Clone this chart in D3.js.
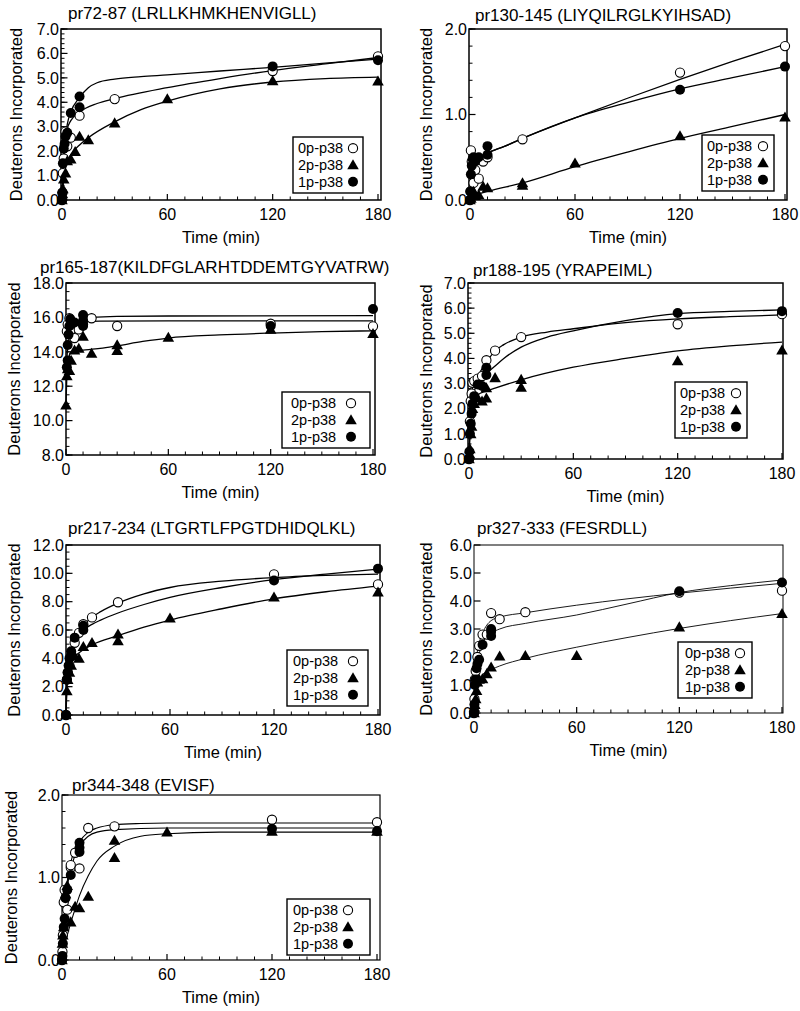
<!DOCTYPE html>
<html><head><meta charset="utf-8">
<script src="https://cdn.jsdelivr.net/npm/d3@7"></script>
<style>
body{margin:0;background:#fff}
svg{display:block}
text{font-family:"Liberation Sans",Arial,Helvetica,sans-serif;fill:#000}
</style>
</head><body>
<svg id="chart" width="800" height="1011"></svg>
<script>
// ---------- DATA ([time (min), deuterons]) ----------
const seriesNames = ["0p-p38", "2p-p38", "1p-p38"];
const xTicks = [0, 60, 120, 180];

// pr72-87
const p1_0p = [[0,0],[0.25,0.3],[0.5,1.1],[1,1.7],[1.5,2.2],[2,2.8],[3,2.2],[5,2.55],[10,3.45],[30,4.13],[120,5.28],[180,5.88]];
const p1_2p = [[0,0],[0.25,0.25],[0.5,0.45],[1,0.85],[2,1.1],[3,1.6],[5,1.67],[7.5,1.98],[10,2.6],[15,2.46],[30,3.15],[60,4.14],[120,4.88],[180,4.86]];
const p1_1p = [[0,0],[0.25,0.3],[0.5,1.5],[1,2.1],[1.5,2.3],[2,2.6],[3,2.75],[5,3.56],[10,3.8],[10,4.24],[120,5.47],[180,5.72]];
const p1_fit0p = [[0,0],[0.5,0.9],[1,1.6],[2,2.4],[3,2.9],[5,3.25],[10,3.6],[20,3.95],[30,4.15],[60,4.6],[90,4.97],[120,5.3],[150,5.57],[180,5.83]];
const p1_fit2p = [[0,0],[0.5,0.5],[1,0.9],[2,1.3],[3,1.55],[5,1.85],[10,2.25],[15,2.55],[30,3.2],[45,3.7],[60,4.05],[90,4.55],[120,4.83],[150,4.97],[180,5.03]];
const p1_fit1p = [[0,0],[0.5,1.2],[1,1.9],[2,2.6],[3,3.1],[5,3.6],[10,4.2],[15,4.6],[20,4.8],[30,4.95],[45,5.05],[60,5.12],[90,5.28],[120,5.43],[150,5.6],[180,5.77]];

// pr130-145
const p2_0p = [[0,0],[0.25,0.1],[0.5,0.58],[1,0.45],[1.5,0.3],[2,0.2],[3,0.35],[5,0.25],[7.5,0.45],[10,0.5],[30,0.71],[120,1.49],[180,1.8]];
const p2_2p = [[0,0],[0.5,0.02],[1,0.05],[2,0.1],[3,0.05],[5,0.06],[7.5,0.16],[10,0.14],[30,0.2],[30,0.17],[60,0.43],[120,0.75],[180,0.97]];
const p2_1p = [[0,0],[0.25,0.1],[0.5,0.3],[1,0.4],[1.5,0.48],[2,0.5],[3,0.45],[5,0.5],[10,0.53],[10,0.63],[120,1.29],[180,1.56]];
const p2_fit0p = [[0,0],[0.5,0.25],[1,0.38],[2,0.45],[5,0.5],[10,0.55],[20,0.63],[30,0.72],[60,0.96],[90,1.19],[120,1.41],[150,1.62],[180,1.82]];
const p2_fit2p = [[0,0],[2,0.04],[5,0.07],[10,0.1],[30,0.2],[60,0.39],[90,0.56],[120,0.72],[150,0.86],[180,1.0]];
const p2_fit1p = [[0,0],[0.5,0.25],[1,0.38],[2,0.45],[5,0.5],[10,0.55],[20,0.63],[30,0.72],[60,0.96],[90,1.14],[120,1.3],[150,1.43],[180,1.56]];

// pr165-187
const p3_0p = [[0.5,15.2],[1,15.6],[2,15.95],[3,15.3],[5,14.8],[7.5,15.3],[10,15.6],[15,15.95],[30,15.5],[120,15.63],[180,15.48]];
const p3_2p = [[0,10.9],[0.5,12.6],[1,13.0],[2,12.9],[3,13.5],[5,14.1],[7.5,14.2],[10,14.9],[15,13.9],[30,14.4],[30,14.06],[60,14.83],[120,15.3],[180,15.05]];
const p3_1p = [[0.5,13.1],[1,13.5],[1,14.4],[1.5,15.0],[2,15.5],[2.5,15.9],[3,15.6],[5,15.7],[10,15.5],[10,15.8],[10,16.14],[120,15.5],[180,16.49]];
const p3_fit0p = [[0,15.0],[1,15.45],[2,15.6],[5,15.7],[10,15.75],[20,15.78],[60,15.8],[180,15.8]];
const p3_fit2p = [[0,11],[0.5,12.6],[1,13.3],[2,13.8],[3,14.0],[5,14.05],[10,14.1],[20,14.2],[30,14.35],[45,14.6],[60,14.8],[90,14.98],[120,15.09],[150,15.17],[180,15.22]];
const p3_fit1p = [[0,13.0],[1,14.2],[2,14.9],[3,15.3],[5,15.6],[10,15.9],[15,16.0],[30,16.06],[60,16.08],[180,16.1]];

// pr188-195
const p4_0p = [[0,0],[0.5,1.5],[1,2.3],[1.5,2.6],[2,3.03],[3,3.1],[5,3.2],[7.5,3.3],[10,3.93],[15,4.31],[30,4.85],[120,5.36],[180,5.76]];
const p4_2p = [[0,0],[0.25,0.2],[0.5,0.4],[1,1.0],[1.5,1.3],[2,2.0],[3,2.2],[5,2.42],[7.5,2.3],[10,2.42],[10,2.83],[15,3.23],[30,3.16],[30,2.85],[120,3.9],[180,4.33]];
const p4_1p = [[0,0],[0.25,0.3],[0.5,1.0],[1,1.4],[1.5,1.8],[2,2.2],[3,2.5],[5,2.96],[7.5,2.9],[10,3.34],[10,3.63],[120,5.81],[180,5.88]];
const p4_fit0p = [[0,0],[0.5,1.4],[1,2.2],[2,2.8],[3,3.05],[5,3.3],[10,3.85],[15,4.3],[20,4.55],[30,4.85],[45,5.05],[60,5.18],[90,5.42],[120,5.57],[150,5.66],[180,5.73]];
const p4_fit2p = [[0,0],[0.5,1.0],[1,1.6],[2,2.2],[3,2.4],[5,2.55],[10,2.7],[15,2.82],[30,3.15],[60,3.65],[90,4.0],[120,4.3],[150,4.5],[180,4.65]];
const p4_fit1p = [[0,0],[0.5,1.2],[1,1.8],[2,2.4],[3,2.7],[5,3.0],[10,3.4],[15,3.7],[20,4.0],[30,4.45],[45,4.85],[60,5.1],[90,5.5],[120,5.78],[150,5.87],[180,5.93]];

// pr217-234
const p5_0p = [[0,0],[0.5,2.5],[1,3.0],[2,3.5],[3,4.2],[5,5.1],[7.5,5.8],[10,6.41],[15,6.89],[30,7.96],[120,9.93],[180,9.22]];
const p5_2p = [[0,0],[0.5,1.7],[1,2.5],[2,3.0],[3,3.5],[5,4.16],[7.5,4.0],[10,4.82],[15,5.1],[30,5.7],[30,5.23],[60,6.84],[120,8.31],[180,8.67]];
const p5_1p = [[0,0],[0.5,2.5],[1,3.0],[1.5,3.5],[2,4.0],[3,4.5],[5,5.46],[10,6.0],[10,6.3],[120,9.5],[180,10.33]];
const p5_fit0p = [[0,0],[0.5,2.8],[1,3.6],[2,4.3],[3,4.7],[5,5.4],[10,6.3],[15,6.9],[20,7.3],[30,7.9],[45,8.55],[60,9.0],[90,9.45],[120,9.7],[150,9.85],[180,9.95]];
const p5_fit2p = [[0,0],[0.5,1.8],[1,2.6],[2,3.3],[3,3.7],[5,4.1],[10,4.6],[15,4.95],[30,5.6],[45,6.2],[60,6.7],[90,7.5],[120,8.2],[150,8.7],[180,9.1]];
const p5_fit1p = [[0,0],[0.5,2.6],[1,3.4],[2,4.2],[3,4.6],[5,5.3],[10,6.0],[15,6.4],[20,6.7],[30,7.2],[45,7.8],[60,8.3],[90,9.0],[120,9.55],[150,9.95],[180,10.3]];

// pr327-333
const p6_0p = [[0,0],[0.25,0.5],[0.5,1.2],[1,1.5],[2,2.0],[3,2.4],[5,2.8],[7.5,2.8],[10,3.57],[15,3.35],[30,3.6],[120,4.3],[180,4.37]];
const p6_2p = [[0,0],[0.25,0.2],[0.5,0.3],[1,0.5],[1.5,0.8],[2,1.1],[3,1.2],[5,1.22],[7.5,1.4],[10,1.64],[15,2.03],[30,2.05],[60,2.05],[120,3.07],[180,3.55]];
const p6_1p = [[0,0],[0.25,0.3],[0.5,1.0],[1,1.2],[1.5,1.6],[2,1.75],[3,1.9],[5,2.44],[10,2.75],[10,2.9],[10,3.0],[120,4.35],[180,4.66]];
const p6_fit0p = [[0,0],[0.5,1.2],[1,1.7],[2,2.2],[3,2.5],[5,2.85],[10,3.3],[15,3.42],[30,3.58],[60,3.85],[90,4.08],[120,4.28],[150,4.46],[180,4.63]];
const p6_fit2p = [[0,0],[0.5,0.5],[1,0.8],[2,1.1],[3,1.25],[5,1.38],[10,1.55],[15,1.68],[30,1.95],[60,2.35],[90,2.7],[120,3.02],[150,3.3],[180,3.55]];
const p6_fit1p = [[0,0],[0.5,0.9],[1,1.3],[2,1.8],[3,2.1],[5,2.5],[10,2.85],[15,3.0],[30,3.2],[60,3.5],[90,3.9],[120,4.3],[150,4.55],[180,4.75]];

// pr344-348
const p7_0p = [[0,0],[0.25,0.1],[0.5,0.3],[1,0.7],[1.5,0.85],[3,0.61],[5,1.12],[5,1.15],[7.5,1.3],[10,1.11],[15,1.6],[30,1.62],[120,1.7],[180,1.67]];
const p7_2p = [[0,0],[0.25,0.2],[0.5,0.3],[1,0.4],[2,0.8],[3,0.9],[5,0.46],[7.5,0.65],[10,0.63],[15,0.77],[30,1.45],[30,1.24],[60,1.55],[120,1.56],[180,1.56]];
const p7_1p = [[0,0],[0.25,0.05],[0.5,0.2],[1,0.4],[1.5,0.5],[2,0.75],[3,0.85],[5,1.03],[10,1.31],[10,1.36],[10,1.42],[120,1.59],[180,1.56]];
const p7_fit0p = [[0,0],[1,0.45],[2,0.75],[3,0.95],[5,1.18],[10,1.43],[15,1.55],[20,1.6],[30,1.64],[45,1.655],[60,1.66],[180,1.66]];
const p7_fit2p = [[0,0],[1,0.15],[3,0.3],[5,0.45],[7.5,0.62],[10,0.78],[15,1.02],[20,1.2],[30,1.38],[45,1.5],[60,1.53],[90,1.55],[180,1.55]];
const p7_fit1p = [[0,0],[1,0.42],[2,0.7],[3,0.88],[5,1.1],[10,1.38],[15,1.5],[20,1.55],[30,1.58],[60,1.6],[180,1.6]];

// ---------- PANELS (labels, axes, layout) ----------
const panels = [
  {title:"pr72-87 (LRLLKHMKHENVIGLL)", y:[0,7], yStep:1, yMinor:0.2, pts:[p1_0p,p1_2p,p1_1p], fits:[p1_fit0p,p1_fit2p,p1_fit1p],
   box:{l:61,r:381,t:29,b:200}, xr:[62,378], tx:68, ty:19, ylx:16, leg:{x:293,y:137,w:70,h:56,tx:298,mx:353}, lw:1.3, fw:1.5},
  {title:"pr130-145 (LIYQILRGLKYIHSAD)", y:[0,2], yStep:1, yMinor:0.2, pts:[p2_0p,p2_2p,p2_1p], fits:[p2_fit0p,p2_fit2p,p2_fit1p],
   box:{l:469,r:787,t:29,b:200}, xr:[470,785], tx:475, ty:21, ylx:426, leg:{x:702,y:135,w:72,h:56,tx:707,mx:763}, lw:1.3, fw:1.5},
  {title:"pr165-187(KILDFGLARHTDDEMTGYVATRW)", y:[8,18], yStep:2, yMinor:0.5, pts:[p3_0p,p3_2p,p3_1p], fits:[p3_fit0p,p3_fit2p,p3_fit1p],
   box:{l:66,r:375,t:283,b:455}, xr:[66,373], tx:40, ty:273, ylx:14, leg:{x:282,y:392,w:88,h:56,tx:291,mx:351}, lw:1.3, fw:1.5},
  {title:"pr188-195 (YRAPEIML)", y:[0,7], yStep:1, yMinor:0.2, pts:[p4_0p,p4_2p,p4_1p], fits:[p4_fit0p,p4_fit2p,p4_fit1p],
   box:{l:468,r:783,t:283,b:459}, xr:[469,782], tx:473, ty:276, ylx:426, leg:{x:675,y:382,w:72,h:56,tx:680,mx:736}, lw:1.3, fw:1.5},
  {title:"pr217-234 (LTGRTLFPGTDHIDQLKL)", y:[0,12], yStep:2, yMinor:0.5, pts:[p5_0p,p5_2p,p5_1p], fits:[p5_fit0p,p5_fit2p,p5_fit1p],
   box:{l:66,r:380,t:545,b:715}, xr:[66,378], tx:68, ty:534, ylx:14, leg:{x:287,y:650,w:81,h:56,tx:293,mx:353}, lw:1.3, fw:1.5},
  {title:"pr327-333 (FESRDLL)", y:[0,6], yStep:1, yMinor:null, pts:[p6_0p,p6_2p,p6_1p], fits:[p6_fit0p,p6_fit2p,p6_fit1p],
   box:{l:474,r:783,t:545,b:713}, xr:[474,782], tx:477, ty:534, ylx:426, leg:{x:678,y:642,w:74,h:56,tx:685,mx:740}, lw:0.9, fw:1},
  {title:"pr344-348 (EVISF)", y:[0,2], yStep:1, yMinor:0.2, pts:[p7_0p,p7_2p,p7_1p], fits:[p7_fit0p,p7_fit2p,p7_fit1p],
   box:{l:62,r:380,t:795,b:960}, xr:[62,377], tx:72, ty:791, ylx:11, leg:{x:287,y:899,w:83,h:56,tx:293,mx:348}, lw:1.1, fw:1.2}
];

// ---------- DRAW ----------
const svg = d3.select("#chart");
const markerR = 4.6;
const triSym = d3.symbol().type(d3.symbolTriangle).size(58);
const legendFont = 14.5, legendRow = 16.8;

function drawMarker(g, kind, x, y) {
  if (kind === 0) {
    g.append("circle").attr("cx", x).attr("cy", y).attr("r", markerR)
      .attr("fill", "#fff").attr("stroke", "#000").attr("stroke-width", 1.1);
  } else if (kind === 1) {
    g.append("path").attr("d", triSym).attr("transform", `translate(${x},${y + 1})`).attr("fill", "#000");
  } else {
    g.append("circle").attr("cx", x).attr("cy", y).attr("r", markerR + 0.4).attr("fill", "#000");
  }
}

panels.forEach(p => {
  const g = svg.append("g");
  const x = d3.scaleLinear().domain([0, 180]).range(p.xr);
  const y = d3.scaleLinear().domain(p.y).range([p.box.b, p.box.t]);
  const B = p.box;

  g.append("text").attr("x", p.tx).attr("y", p.ty).attr("font-size", 17).text(p.title);

  g.append("text").attr("transform", `translate(${p.ylx},${(B.t + B.b) / 2}) rotate(-90)`)
    .attr("text-anchor", "middle").attr("dy", "0.35em").attr("font-size", 16.5).text("Deuterons Incorporated");

  g.append("text").attr("x", (B.l + B.r) / 2).attr("y", B.b + 43).attr("text-anchor", "middle")
    .attr("font-size", 16.5).text("Time (min)");

  const line = d3.line().x(d => x(d[0])).y(d => y(d[1])).curve(d3.curveMonotoneX);
  p.fits.forEach(f => {
    g.append("path").attr("d", line(f)).attr("fill", "none").attr("stroke", "#000").attr("stroke-width", p.lw);
  });

  const yMajor = d3.range(p.y[0], p.y[1] + 1e-9, p.yStep);
  if (p.yMinor) {
    d3.range(p.y[0], p.y[1] + 1e-9, p.yMinor).forEach(v => {
      g.append("line").attr("x1", B.l).attr("x2", B.l + 3.5).attr("y1", y(v)).attr("y2", y(v))
        .attr("stroke", "#000").attr("stroke-width", 1);
    });
  }
  yMajor.forEach(v => {
    g.append("line").attr("x1", B.l).attr("x2", B.l + 6.5).attr("y1", y(v)).attr("y2", y(v))
      .attr("stroke", "#000").attr("stroke-width", 1.2);
    g.append("text").attr("x", B.l - 2).attr("y", y(v)).attr("dy", "0.36em").attr("text-anchor", "end")
      .attr("font-size", 16).text(d3.format(".1f")(v));
  });
  d3.range(0, 181, 10).forEach(t => {
    const major = xTicks.includes(t);
    g.append("line").attr("x1", x(t)).attr("x2", x(t)).attr("y1", B.b).attr("y2", B.b - (major ? 6 : 3.5))
      .attr("stroke", "#000").attr("stroke-width", major ? 1.2 : 1);
  });
  xTicks.forEach(t => {
    g.append("text").attr("x", x(t)).attr("y", B.b + 20).attr("text-anchor", "middle")
      .attr("font-size", 16).text(t);
  });

  g.append("rect").attr("x", B.l).attr("y", B.t).attr("width", B.r - B.l).attr("height", B.b - B.t)
    .attr("fill", "none").attr("stroke", "#000").attr("stroke-width", p.fw);

  p.pts.forEach((s, k) => {
    s.forEach(d => drawMarker(g, k, x(d[0]), y(d[1])));
  });

  const L = p.leg;
  g.append("rect").attr("x", L.x).attr("y", L.y).attr("width", L.w).attr("height", L.h)
    .attr("fill", "#fff").attr("stroke", "#000").attr("stroke-width", 1.4);
  seriesNames.forEach((name, k) => {
    const cy = L.y + L.h / 2 + (k - 1) * legendRow;
    g.append("text").attr("x", L.tx).attr("y", cy).attr("dy", "0.36em").attr("font-size", legendFont).text(name);
    drawMarker(g, k, L.mx, cy);
  });
});
</script>
</body></html>
